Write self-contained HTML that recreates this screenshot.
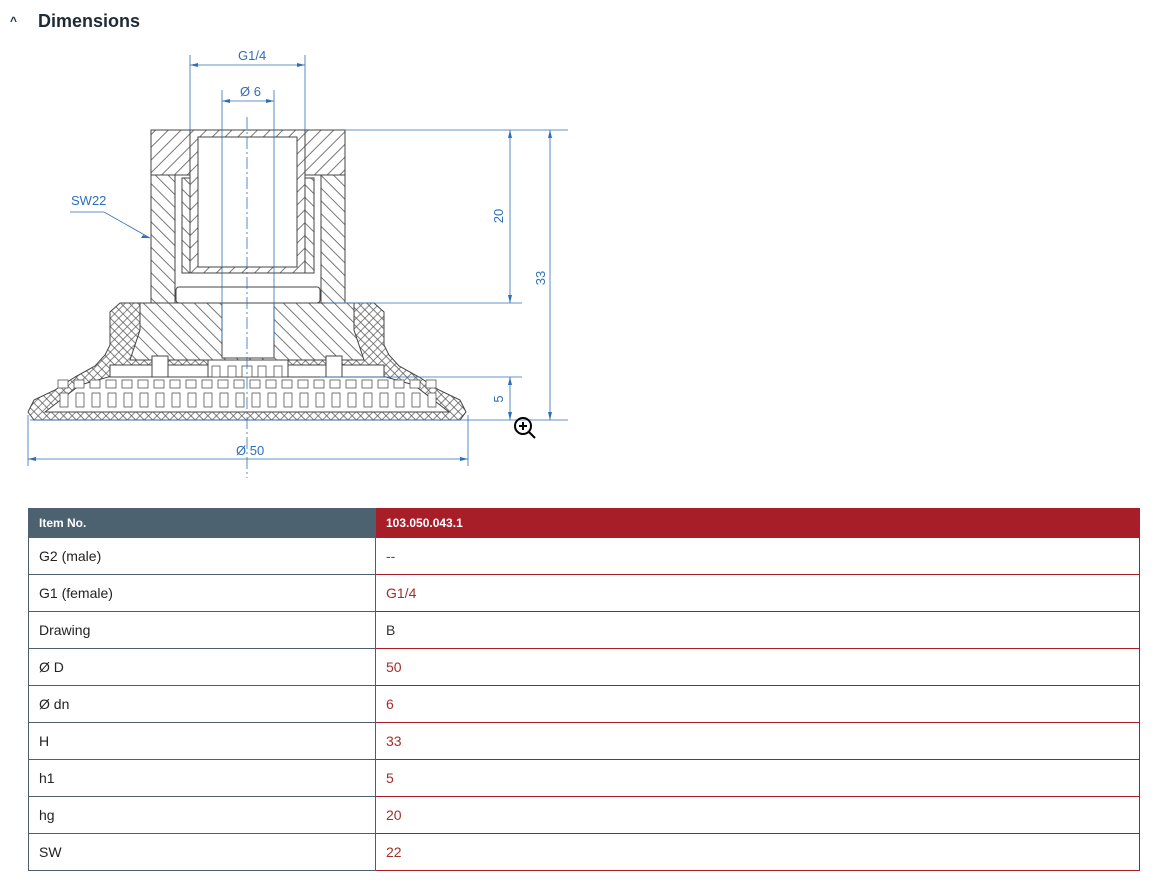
<!DOCTYPE html>
<html><head><meta charset="utf-8"><style>
body{margin:0;background:#fff;width:1162px;height:896px;overflow:hidden;font-family:"Liberation Sans",Arial,sans-serif;}
.hd{position:absolute;left:10px;top:11px;font-size:18px;font-weight:bold;color:#1d2b36;}
.hd span{font-size:12px;margin-right:21px;position:relative;top:-2px}
table{position:absolute;left:28px;top:508px;border-collapse:collapse;width:1112px;font-size:14px;}
td{height:36px;padding:0 0 0 10px;border:1px solid #4d5f6c;color:#222;}
td.v{border-color:#a81e28;color:#a0302a;border-left:1px solid #4d5f6c}
td.k{width:336px}
tr.h td{height:28px;font-size:12px;font-weight:bold;color:#fff;background:#4d6270;border-color:#4d6270}
tr.h td.v{background:#a81e28;border-color:#a81e28}
</style></head><body>
<div class="hd"><span>^</span>Dimensions</div>
<svg width="1162" height="500" style="position:absolute;left:0;top:0" xmlns="http://www.w3.org/2000/svg">
<defs>
<pattern id="d1" width="9" height="9" patternUnits="userSpaceOnUse" patternTransform="rotate(45)"><rect width="9" height="9" fill="#fff"/><line x1="4" y1="-1" x2="4" y2="10" stroke="#555" stroke-width="0.8"/></pattern>
<pattern id="d2" width="9" height="9" patternUnits="userSpaceOnUse" patternTransform="rotate(-45)"><rect width="9" height="9" fill="#fff"/><line x1="4" y1="-1" x2="4" y2="10" stroke="#555" stroke-width="0.8"/></pattern>
<pattern id="x" width="6" height="6" patternUnits="userSpaceOnUse" patternTransform="rotate(45)"><rect width="6" height="6" fill="#fff"/><path d="M3 0V6M0 3H6" stroke="#555" stroke-width="0.7"/></pattern>
</defs>
<g stroke="#444" stroke-width="1">
<path d="M28,412 L34,400 L55,390 L75,377 L95,366 L105,355 L110,345 L110,312 L120,303 L374,303 L384,312 L384,345 L389,355 L399,366 L419,377 L439,390 L460,400 L466,412 L460,420 L34,420 Z" fill="url(#x)"/>
<path d="M130,360 L140,330 L140,303 L354,303 L354,330 L364,360 Z" fill="url(#d2)"/>
<rect x="151" y="130" width="194" height="173" fill="url(#d1)"/>
<rect x="151" y="175" width="194" height="128" fill="url(#d2)"/>
<rect x="175" y="175" width="146" height="128" fill="#fff"/>
<rect x="182" y="178" width="132" height="95" fill="url(#d2)"/>
<rect x="190" y="130" width="115" height="143" fill="url(#d1)"/>
<rect x="198" y="137" width="99" height="130" fill="#fff"/>
<rect x="176" y="287" width="144" height="16" rx="3" fill="#fff"/>
<line x1="185" y1="273" x2="310" y2="273"/>
<rect x="222" y="303" width="52" height="55" fill="#fff"/>
<path d="M45,412 L80,385 L140,368 L354,368 L414,385 L449,412 Z" fill="#fff"/>
<rect x="110" y="365" width="274" height="12" fill="#fff"/>
<rect x="208" y="360" width="80" height="17" fill="#fff"/>
<rect x="152" y="356" width="16" height="21" fill="#fff"/>
<rect x="326" y="356" width="16" height="21" fill="#fff"/>
</g>
<g stroke="#555" stroke-width="0.8" fill="#fff">
<rect x="58" y="380" width="10" height="8"/><rect x="74" y="380" width="10" height="8"/><rect x="90" y="380" width="10" height="8"/><rect x="106" y="380" width="10" height="8"/><rect x="122" y="380" width="10" height="8"/><rect x="138" y="380" width="10" height="8"/><rect x="154" y="380" width="10" height="8"/><rect x="170" y="380" width="10" height="8"/><rect x="186" y="380" width="10" height="8"/><rect x="202" y="380" width="10" height="8"/><rect x="218" y="380" width="10" height="8"/><rect x="234" y="380" width="10" height="8"/><rect x="250" y="380" width="10" height="8"/><rect x="266" y="380" width="10" height="8"/><rect x="282" y="380" width="10" height="8"/><rect x="298" y="380" width="10" height="8"/><rect x="314" y="380" width="10" height="8"/><rect x="330" y="380" width="10" height="8"/><rect x="346" y="380" width="10" height="8"/><rect x="362" y="380" width="10" height="8"/><rect x="378" y="380" width="10" height="8"/><rect x="394" y="380" width="10" height="8"/><rect x="410" y="380" width="10" height="8"/><rect x="426" y="380" width="10" height="8"/>
<rect x="60" y="393" width="8" height="14"/><rect x="76" y="393" width="8" height="14"/><rect x="92" y="393" width="8" height="14"/><rect x="108" y="393" width="8" height="14"/><rect x="124" y="393" width="8" height="14"/><rect x="140" y="393" width="8" height="14"/><rect x="156" y="393" width="8" height="14"/><rect x="172" y="393" width="8" height="14"/><rect x="188" y="393" width="8" height="14"/><rect x="204" y="393" width="8" height="14"/><rect x="220" y="393" width="8" height="14"/><rect x="236" y="393" width="8" height="14"/><rect x="252" y="393" width="8" height="14"/><rect x="268" y="393" width="8" height="14"/><rect x="284" y="393" width="8" height="14"/><rect x="300" y="393" width="8" height="14"/><rect x="316" y="393" width="8" height="14"/><rect x="332" y="393" width="8" height="14"/><rect x="348" y="393" width="8" height="14"/><rect x="364" y="393" width="8" height="14"/><rect x="380" y="393" width="8" height="14"/><rect x="396" y="393" width="8" height="14"/><rect x="412" y="393" width="8" height="14"/><rect x="428" y="393" width="8" height="14"/>
<rect x="212" y="366" width="8" height="11"/><rect x="228" y="366" width="8" height="11"/><rect x="258" y="366" width="8" height="11"/><rect x="274" y="366" width="8" height="11"/><rect x="242" y="366" width="10" height="11"/>
</g>
<g stroke="#2f6fb5" stroke-width="0.8" fill="none">
<line x1="247" y1="117" x2="247" y2="478" stroke-dasharray="12,3,2,3"/>
<line x1="190" y1="55" x2="190" y2="130"/><line x1="305" y1="55" x2="305" y2="130"/>
<line x1="190" y1="65" x2="305" y2="65"/>
<line x1="222" y1="90" x2="222" y2="340"/><line x1="274" y1="90" x2="274" y2="340"/>
<line x1="222" y1="101" x2="274" y2="101"/>
<line x1="345" y1="130" x2="568" y2="130"/><line x1="325" y1="303" x2="522" y2="303"/>
<line x1="320" y1="377" x2="522" y2="377"/><line x1="30" y1="420" x2="568" y2="420"/>
<line x1="510" y1="130" x2="510" y2="303"/><line x1="550" y1="130" x2="550" y2="420"/>
<line x1="510" y1="377" x2="510" y2="420"/>
<line x1="28" y1="415" x2="28" y2="466"/><line x1="468" y1="415" x2="468" y2="466"/>
<line x1="28" y1="459" x2="468" y2="459"/>
<polyline points="70,212 104,212 150,238"/>
</g>
<g fill="#2f6fb5">
<path d="M190,65l8,-2v4z M305,65l-8,-2v4z M222,101l8,-2v4z M274,101l-8,-2v4z M510,130l-2,8h4z M510,303l-2,-8h4z M550,130l-2,8h4z M550,420l-2,-8h4z M510,377l-2,8h4z M510,420l-2,-8h4z M28,459l8,-2v4z M468,459l-8,-2v4z M150,238l-7,-3l-2,3z"/>
</g>
<g fill="#2f6fb5" font-family="Liberation Sans,sans-serif" font-size="13">
<text x="238" y="60">G1/4</text>
<text x="240" y="96">Ø 6</text>
<text x="71" y="205">SW22</text>
<text x="236" y="455">Ø 50</text>
<text transform="translate(503,216) rotate(-90)" text-anchor="middle">20</text>
<text transform="translate(545,278) rotate(-90)" text-anchor="middle">33</text>
<text transform="translate(503,399) rotate(-90)" text-anchor="middle">5</text>
</g>
<g stroke="#000" stroke-width="2" fill="none">
<circle cx="523" cy="426" r="8"/><line x1="529" y1="432" x2="535" y2="438"/>
<line x1="519" y1="426" x2="527" y2="426"/><line x1="523" y1="422" x2="523" y2="430"/>
</g>
</svg>
<table>
<tr class="h"><td class="k">Item No.</td><td class="v">103.050.043.1</td></tr>
<tr><td class="k">G2 (male)</td><td class="v">--</td></tr>
<tr><td class="k">G1 (female)</td><td class="v">G1/4</td></tr>
<tr><td class="k">Drawing</td><td class="v" style="color:#333">B</td></tr>
<tr><td class="k">Ø D</td><td class="v">50</td></tr>
<tr><td class="k">Ø dn</td><td class="v">6</td></tr>
<tr><td class="k">H</td><td class="v">33</td></tr>
<tr><td class="k">h1</td><td class="v">5</td></tr>
<tr><td class="k">hg</td><td class="v">20</td></tr>
<tr><td class="k">SW</td><td class="v">22</td></tr>
</table>
</body></html>
